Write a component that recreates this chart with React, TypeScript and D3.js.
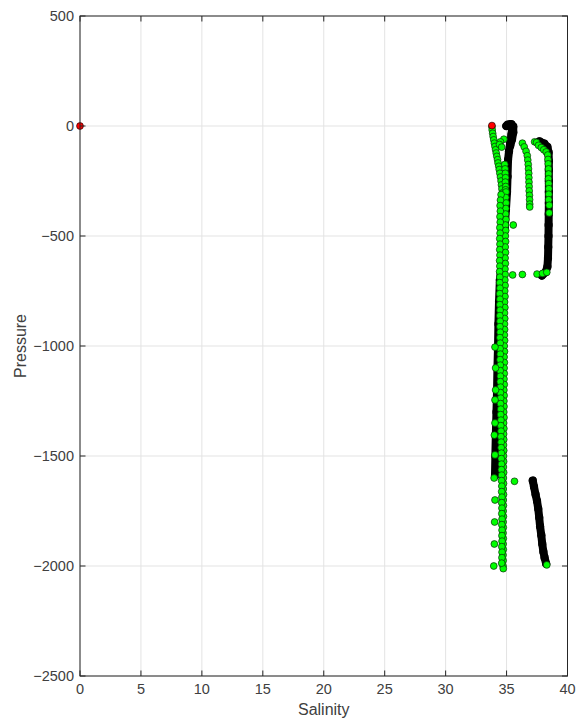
import React from 'react';
import * as d3 from 'd3';

// Axis ticks
const salinityTicks = [0, 5, 10, 15, 20, 25, 30, 35, 40];
const pressureTicks = [500, 0, -500, -1000, -1500, -2000, -2500];

// Flagged (red) samples: [salinity, pressure]
const redSamples: [number, number][] = [
  [0, 0],
  [33.8, 2],
];

// Dense profiles drawn in black
const blackProfileA: [number, number][] = [
  [35.4, 8], [35.45, -10], [35.4, -40], [35.3, -75], [35.2, -115], [35.12, -155],
  [35.08, -230], [35.04, -300], [34.95, -380], [34.85, -460], [34.72, -540], [34.6, -620],
  [34.45, -700], [34.38, -800], [34.33, -900], [34.3, -1000], [34.25, -1100], [34.22, -1200],
  [34.17, -1300], [34.12, -1400], [34.08, -1500], [34.05, -1590],
];
const blackHookA: [number, number][] = [
  [34.98, 0], [35.1, 6], [35.3, 8], [35.55, -2], [35.55, -30], [35.45, -60], [35.3, -90],
];
const blackProfileB: [number, number][] = [
  [37.7, -70], [38.1, -80], [38.35, -95], [38.45, -120], [38.47, -160], [38.47, -200],
  [38.47, -250], [38.47, -300], [38.47, -350], [38.46, -400], [38.45, -450], [38.44, -500],
  [38.42, -550], [38.4, -600], [38.35, -640], [38.2, -665], [37.9, -680],
];
const blackProfileC: [number, number][] = [
  [37.15, -1612], [37.25, -1640], [37.38, -1675], [37.5, -1705], [37.6, -1740], [37.68, -1780],
  [37.75, -1820], [37.85, -1860], [37.93, -1900], [38.02, -1935], [38.12, -1962], [38.25, -1990],
];

// Good (green) samples
const greenSurfaceLeft: [number, number][] = [
  [33.8, -3], [33.82, -18], [33.86, -33], [33.9, -48], [33.95, -63], [34.0, -78],
  [34.05, -93], [34.1, -108], [34.15, -123], [34.2, -138], [34.26, -153], [34.3, -168],
  [34.36, -183], [34.4, -198], [34.45, -215], [34.5, -232], [34.55, -250], [34.58, -268],
  [34.62, -286], [34.65, -305],
];
const greenSurfaceMid: [number, number][] = [
  [34.78, -60], [34.5, -72], [34.42, -84], [34.6, -96],
  [34.85, -175], [34.88, -195], [34.9, -215], [34.92, -235], [34.9, -255], [34.93, -275],
  [34.92, -290],
];
const greenColumnRight: [number, number][] = [
  [34.95, -300], [34.93, -325], [34.96, -350], [34.94, -375], [34.92, -400], [34.95, -425],
  [34.91, -450], [34.93, -475], [34.9, -500], [34.92, -525], [34.89, -550], [34.91, -575],
  [34.88, -600], [34.9, -625], [34.87, -650], [34.89, -675], [34.86, -700], [34.88, -725],
  [34.85, -750], [34.87, -775], [34.84, -800], [34.86, -825], [34.83, -850], [34.85, -875],
  [34.83, -900], [34.84, -925], [34.82, -950], [34.84, -975], [34.81, -1000], [34.83, -1025],
  [34.8, -1050], [34.82, -1075], [34.8, -1100], [34.81, -1125], [34.79, -1150], [34.81, -1175],
  [34.78, -1200], [34.8, -1225], [34.78, -1250], [34.79, -1275], [34.77, -1300], [34.79, -1325],
  [34.76, -1350], [34.78, -1375], [34.76, -1400], [34.77, -1425], [34.75, -1450], [34.77, -1475],
  [34.75, -1500], [34.76, -1525], [34.74, -1550], [34.76, -1575], [34.74, -1600], [34.75, -1625],
  [34.73, -1650], [34.75, -1675], [34.73, -1700], [34.74, -1725], [34.72, -1750], [34.74, -1775],
  [34.72, -1800], [34.73, -1825], [34.71, -1850], [34.73, -1875], [34.72, -1900], [34.73, -1925],
  [34.71, -1950], [34.72, -1975], [34.71, -2000], [34.73, -2012],
];
const greenColumnLeft: [number, number][] = [
  [34.55, -312], [34.5, -337], [34.47, -362], [34.49, -387], [34.46, -412], [34.48, -437],
  [34.45, -462], [34.47, -487], [34.44, -512], [34.46, -537], [34.44, -562], [34.46, -587],
  [34.43, -612], [34.45, -637], [34.43, -662], [34.45, -687], [34.44, -712], [34.46, -737],
  [34.44, -762], [34.46, -787], [34.45, -812], [34.47, -837], [34.45, -862], [34.47, -887],
  [34.46, -912], [34.48, -937], [34.46, -962], [34.48, -987], [34.47, -1012], [34.49, -1037],
  [34.47, -1062], [34.49, -1087], [34.48, -1112], [34.5, -1137], [34.49, -1162], [34.51, -1187],
  [34.5, -1212], [34.52, -1237], [34.51, -1262], [34.53, -1287], [34.52, -1312], [34.54, -1337],
  [34.53, -1362], [34.55, -1387], [34.54, -1412], [34.56, -1437], [34.56, -1462], [34.58, -1487],
  [34.57, -1512], [34.59, -1537], [34.58, -1562], [34.6, -1587], [34.59, -1612], [34.61, -1637],
  [34.6, -1662], [34.62, -1687], [34.6, -1712], [34.62, -1737], [34.61, -1762], [34.63, -1787],
  [34.61, -1812], [34.63, -1837], [34.62, -1862], [34.63, -1887], [34.61, -1912], [34.63, -1937],
  [34.62, -1962], [34.6, -1987],
];
const greenDeepFresh: [number, number][] = [
  [34.05, -1005], [34.1, -1100], [34.1, -1200], [34.05, -1245], [34.05, -1350], [34.0, -1405],
  [34.05, -1495], [33.98, -1600], [34.05, -1700], [34.02, -1800], [34.0, -1900], [33.95, -2000],
];
const greenProfileD: [number, number][] = [
  [36.3, -78], [36.45, -95], [36.6, -115], [36.7, -135], [36.74, -155], [36.78, -175],
  [36.8, -195], [36.82, -215], [36.83, -235], [36.84, -255], [36.85, -275], [36.86, -295],
  [36.88, -315], [36.89, -335], [36.9, -355], [36.9, -368],
];
const greenProfileE: [number, number][] = [
  [37.3, -72], [37.46, -75], [37.62, -88], [37.85, -98], [38.05, -108], [38.25, -118],
  [38.38, -132], [38.4, -152], [38.42, -172], [38.44, -195], [38.45, -218], [38.44, -240],
  [38.46, -262], [38.47, -285], [38.47, -310], [38.46, -335], [38.5, -360], [38.5, -395],
];
const greenScattered: [number, number][] = [
  [35.55, -450], [35.5, -677], [36.3, -675], [37.5, -673], [37.95, -670], [38.3, -665],
  [35.65, -1615], [38.3, -1995],
];

const greenSets = [
  greenSurfaceLeft, greenSurfaceMid, greenColumnRight, greenColumnLeft,
  greenDeepFresh, greenProfileD, greenProfileE, greenScattered,
];
const blackSets = [blackProfileA, blackHookA, blackProfileB, blackProfileC];

const WIDTH = 587;
const HEIGHT = 718;
const LEFT = 80;
const RIGHT = 567.5;
const TOP = 16;
const BOTTOM = 676;

const FONT = '"Liberation Sans", Arial, Helvetica, sans-serif';
const INK = '#262626';
const TEXT = '#404040';
const TICK_FONT = 14.5;
const LABEL_FONT = 16;

export default function App() {
  const x = d3.scaleLinear().domain([0, 40]).range([LEFT, RIGHT]);
  const y = d3.scaleLinear().domain([-2500, 500]).range([BOTTOM, TOP]);
  const fmt = d3.format('');
  const line = d3
    .line<[number, number]>()
    .x((d) => x(d[0]))
    .y((d) => y(d[1]));
  const tickLen = 5.5;

  return (
    <svg
      width={WIDTH}
      height={HEIGHT}
      style={{ position: 'absolute', left: 0, top: 0, background: '#fff' }}
    >
      <rect x={0} y={0} width={WIDTH} height={HEIGHT} fill="#fff" />
      {/* grid */}
      {salinityTicks.map((t) => (
        <line key={'gx' + t} x1={x(t)} x2={x(t)} y1={TOP} y2={BOTTOM} stroke="#e3e3e3" strokeWidth={1} />
      ))}
      {pressureTicks.map((t) => (
        <line key={'gy' + t} x1={LEFT} x2={RIGHT} y1={y(t)} y2={y(t)} stroke="#e3e3e3" strokeWidth={1} />
      ))}

      {/* black profiles */}
      {blackSets.map((set, i) => (
        <g key={'b' + i}>
          <path
            d={line(set) || ''}
            fill="none"
            stroke="#000"
            strokeWidth={8}
            strokeLinecap="round"
            strokeLinejoin="round"
          />
          {set.map((d, j) => (
            <circle key={j} cx={x(d[0])} cy={y(d[1])} r={4.1} fill="#000" />
          ))}
        </g>
      ))}

      {/* green samples */}
      {greenSets.map((set, i) => (
        <g key={'g' + i}>
          {set.map((d, j) => (
            <circle
              key={j}
              cx={x(d[0])}
              cy={y(d[1])}
              r={3.4}
              fill="#00ff00"
              stroke="#0b2a0b"
              strokeWidth={0.7}
            />
          ))}
        </g>
      ))}

      {/* red samples */}
      {redSamples.map((d, j) => (
        <circle
          key={'r' + j}
          cx={x(d[0])}
          cy={y(d[1])}
          r={3.4}
          fill="#ff0000"
          stroke="#2a0000"
          strokeWidth={0.7}
        />
      ))}

      {/* axes box */}
      <rect x={LEFT} y={TOP} width={RIGHT - LEFT} height={BOTTOM - TOP} fill="none" stroke={INK} strokeWidth={1} />
      {salinityTicks.map((t) => (
        <g key={'tx' + t}>
          <line x1={x(t)} x2={x(t)} y1={BOTTOM} y2={BOTTOM - tickLen} stroke={INK} />
          <line x1={x(t)} x2={x(t)} y1={TOP} y2={TOP + tickLen} stroke={INK} />
          <text
            x={x(t)}
            y={BOTTOM + 13}
            textAnchor="middle"
            dominantBaseline="central"
            fontFamily={FONT}
            fontSize={TICK_FONT}
            fill={TEXT}
          >
            {fmt(t)}
          </text>
        </g>
      ))}
      {pressureTicks.map((t) => (
        <g key={'ty' + t}>
          <line x1={LEFT} x2={LEFT + tickLen} y1={y(t)} y2={y(t)} stroke={INK} />
          <line x1={RIGHT} x2={RIGHT - tickLen} y1={y(t)} y2={y(t)} stroke={INK} />
          <text
            x={LEFT - 6}
            y={y(t)}
            textAnchor="end"
            dominantBaseline="central"
            fontFamily={FONT}
            fontSize={TICK_FONT}
            fill={TEXT}
          >
            {fmt(t)}
          </text>
        </g>
      ))}

      {/* axis titles */}
      <text
        x={(LEFT + RIGHT) / 2}
        y={709}
        textAnchor="middle"
        dominantBaseline="central"
        fontFamily={FONT}
        fontSize={LABEL_FONT}
        fill={TEXT}
      >
        Salinity
      </text>
      <text
        transform={`translate(20,${(TOP + BOTTOM) / 2}) rotate(-90)`}
        textAnchor="middle"
        dominantBaseline="central"
        fontFamily={FONT}
        fontSize={LABEL_FONT}
        fill={TEXT}
      >
        Pressure
      </text>
    </svg>
  );
}
